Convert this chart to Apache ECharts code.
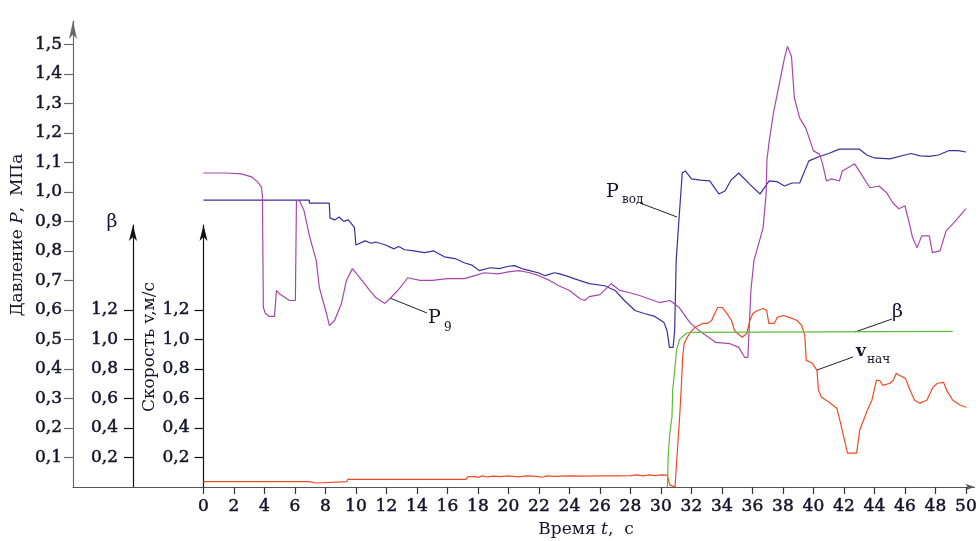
<!DOCTYPE html>
<html><head><meta charset="utf-8">
<script src="https://cdn.jsdelivr.net/npm/echarts@6/dist/echarts.min.js"></script>
<style>html,body{margin:0;padding:0;background:#fff}#c{width:980px;height:541px}</style>
</head><body><div id="c"></div>
<script>
// ---- tick labels ----
const timeTicks = [0,2,4,6,8,10,12,14,16,18,20,22,24,26,28,30,32,34,36,38,40,42,44,46,48,50];
const pressureTicks = [0.1,0.2,0.3,0.4,0.5,0.6,0.7,0.8,0.9,1.0,1.1,1.2,1.3,1.4,1.5];
const betaTicks = [0.2,0.4,0.6,0.8,1.0,1.2];
const speedTicks = [0.2,0.4,0.6,0.8,1.0,1.2];

// ---- series: [time s, value] ----
const pVod = [[0,0.972],[6.95,0.972],[6.95,0.962],[8.25,0.962],[8.3,0.912],[8.6,0.905],[8.9,0.915],[9.2,0.9],[9.5,0.905],[9.9,0.88],[10.0,0.82],[10.6,0.834],[11.0,0.826],[11.3,0.83],[11.9,0.821],[12.5,0.807],[12.8,0.815],[13.2,0.804],[13.8,0.8],[14.5,0.794],[15.1,0.8],[15.8,0.78],[16.5,0.774],[17.1,0.76],[17.6,0.752],[18.1,0.733],[18.8,0.743],[19.4,0.74],[20.0,0.748],[20.4,0.75],[21.0,0.738],[21.4,0.733],[22.0,0.725],[22.4,0.716],[23.0,0.726],[23.3,0.723],[24.0,0.712],[24.3,0.706],[25.3,0.689],[26.3,0.682],[27.0,0.666],[27.6,0.632],[28.3,0.598],[28.9,0.588],[29.6,0.578],[30.2,0.557],[30.4,0.53],[30.56,0.473],[30.8,0.473],[30.9,0.53],[31.0,0.767],[31.2,0.919],[31.4,1.064],[31.6,1.071],[32.0,1.044],[32.6,1.04],[33.2,1.037],[33.8,0.993],[34.2,1.003],[34.6,1.04],[35.1,1.064],[35.8,1.027],[36.5,0.993],[37.1,1.037],[37.6,1.035],[38.1,1.02],[38.6,1.03],[39.1,1.03],[39.7,1.105],[40.4,1.12],[41.0,1.13],[41.7,1.145],[43.0,1.145],[43.5,1.125],[44.0,1.115],[45.0,1.112],[46.0,1.125],[46.4,1.13],[47.0,1.122],[47.6,1.12],[48.2,1.125],[48.9,1.14],[49.5,1.14],[50,1.135]];

const p9 = [[0,1.064],[1.4,1.064],[2.5,1.061],[3.15,1.051],[3.55,1.034],[3.8,1.017],[3.87,0.986],[3.93,0.608],[4.07,0.588],[4.33,0.578],[4.66,0.578],[4.79,0.666],[4.98,0.655],[5.64,0.632],[6.03,0.632],[6.1,0.97],[6.3,0.97],[6.6,0.936],[6.95,0.851],[7.4,0.767],[7.6,0.676],[8.07,0.588],[8.26,0.547],[8.6,0.564],[9.05,0.622],[9.38,0.7],[9.77,0.74],[10.4,0.7],[10.9,0.666],[11.3,0.642],[11.9,0.622],[12.3,0.642],[12.85,0.672],[13.4,0.709],[14.2,0.7],[15.0,0.7],[16.0,0.706],[17.1,0.706],[17.8,0.716],[18.4,0.726],[19.3,0.722],[20.1,0.73],[20.7,0.733],[21.4,0.726],[22.0,0.716],[22.7,0.7],[23.3,0.682],[24.0,0.666],[24.7,0.638],[25.0,0.632],[25.3,0.645],[26.0,0.652],[26.75,0.689],[27.3,0.666],[27.9,0.659],[28.6,0.649],[29.2,0.638],[29.9,0.625],[30.6,0.632],[31.2,0.608],[31.9,0.557],[32.5,0.53],[33.6,0.49],[34.5,0.486],[35.1,0.473],[35.5,0.439],[35.7,0.439],[35.8,0.55],[35.9,0.666],[36.1,0.767],[36.7,0.878],[36.9,0.995],[36.95,1.107],[37.1,1.172],[37.4,1.274],[37.8,1.375],[38.1,1.453],[38.3,1.493],[38.4,1.497],[38.56,1.459],[38.75,1.318],[39.1,1.25],[39.5,1.216],[40.0,1.139],[40.4,1.128],[40.6,1.095],[40.85,1.037],[41.2,1.044],[41.7,1.037],[41.9,1.071],[42.7,1.095],[43.0,1.071],[43.7,1.014],[44.3,1.02],[44.8,0.997],[45.2,0.963],[45.6,0.943],[46.0,0.953],[46.2,0.912],[46.5,0.845],[46.8,0.811],[47.1,0.851],[47.6,0.851],[47.8,0.794],[48.3,0.8],[48.7,0.868],[49.2,0.895],[49.6,0.919],[50,0.943]];

const vNach = [[0,0.036],[6.9,0.036],[6.95,0.027],[7.4,0.027],[7.45,0.036],[9.4,0.036],[9.45,0.052],[17.2,0.052],[17.3,0.068],[17.8,0.072],[18.0,0.065],[18.3,0.075],[18.6,0.068],[19.0,0.074],[19.5,0.07],[20.0,0.075],[20.6,0.068],[21.2,0.075],[21.8,0.072],[22.2,0.066],[22.5,0.075],[23.0,0.072],[24.0,0.075],[25.0,0.074],[26.0,0.075],[27.0,0.075],[28.0,0.077],[28.4,0.082],[28.8,0.076],[29.2,0.082],[29.6,0.077],[30.0,0.082],[30.4,0.08],[30.55,0.014],[30.9,0.0],[31.1,0.318],[31.2,0.473],[31.3,0.655],[31.4,0.878],[31.5,0.973],[31.7,1.014],[31.9,1.047],[32.2,1.081],[32.7,1.108],[33.0,1.108],[33.3,1.128],[33.5,1.176],[33.7,1.216],[34.0,1.216],[34.3,1.176],[34.6,1.128],[34.8,1.061],[35.0,1.04],[35.3,1.014],[35.6,1.04],[35.8,1.128],[36.0,1.176],[36.3,1.196],[36.7,1.209],[36.9,1.196],[37.05,1.108],[37.4,1.108],[37.6,1.149],[38.0,1.162],[38.4,1.149],[38.9,1.128],[39.2,1.095],[39.4,1.027],[39.5,0.858],[39.9,0.838],[40.2,0.79],[40.3,0.655],[40.5,0.608],[41.0,0.574],[41.5,0.534],[41.7,0.453],[41.9,0.365],[42.2,0.23],[42.8,0.23],[43.0,0.385],[43.5,0.52],[43.8,0.588],[44.1,0.723],[44.3,0.723],[44.5,0.689],[45.0,0.703],[45.2,0.723],[45.4,0.77],[45.6,0.757],[46.0,0.736],[46.3,0.655],[46.6,0.588],[46.95,0.568],[47.4,0.588],[47.8,0.676],[48.1,0.703],[48.5,0.709],[48.7,0.655],[49.1,0.588],[49.6,0.554],[50.0,0.54]];

const beta = [[30.4,0],[30.45,0.204],[30.56,0.367],[30.7,0.476],[30.75,0.66],[30.9,0.816],[31.0,0.93],[31.2,1.0],[31.4,1.02],[31.7,1.045],[32.1,1.048],[49.1,1.054]];

const serif = 'DejaVu Serif';
const ink = '#14142a';
const fmt = v => Number(v).toFixed(1).replace('.', ',');
const heavy = {textBorderColor: ink, textBorderWidth: 0.5};

const chart = echarts.init(document.getElementById('c'), null, {renderer: 'canvas'});

const xCommon = {type: 'value', min: -8.552, max: 50.557};
function yAx(grid, offset, max, ticks, lineColor, margin, arrowLen) {
  return {
    type: 'value', gridIndex: grid, position: 'left', offset: offset, min: 0, max: max,
    splitLine: {show: false},
    axisLine: {show: true, onZero: false, symbol: ['none', 'arrow'], symbolSize: [6, arrowLen], lineStyle: {color: lineColor, width: 1.2}},
    axisTick: {show: true, length: 9, customValues: ticks, lineStyle: {color: lineColor, width: 1.2}},
    axisLabel: Object.assign({show: true, customValues: ticks, formatter: fmt, margin: margin, color: ink, fontFamily: serif, fontSize: 17}, heavy)
  };
}

const option = {
  animation: false,
  backgroundColor: '#fff',
  grid: [
    {left: 73, right: 5, top: 21, bottom: 54},
    {left: 73, right: 5, top: 225, bottom: 54}
  ],
  xAxis: [
    Object.assign({}, xCommon, {
      gridIndex: 0, position: 'bottom',
      splitLine: {show: false},
      axisLine: {show: true, onZero: false, symbol: ['none', 'arrow'], symbolSize: [5, 9], lineStyle: {color: '#555', width: 1.2}},
      axisTick: {show: true, length: 7, customValues: timeTicks, lineStyle: {color: '#333', width: 1.2}},
      axisLabel: Object.assign({show: true, customValues: timeTicks, margin: 11, color: ink, fontFamily: serif, fontSize: 17}, heavy)
    }),
    Object.assign({}, xCommon, {gridIndex: 1, show: false})
  ],
  yAxis: [
    yAx(0, 0, 1.579, pressureTicks, '#6a6a6a', 11, 18),
    yAx(1, -60, 1.775, betaTicks, '#111', 15, 16),
    yAx(1, -130.5, 1.775, speedTicks, '#111', 14, 16)
  ],
  series: [
    {name: 'Pвод', type: 'line', xAxisIndex: 0, yAxisIndex: 0, data: pVod, showSymbol: false, clip: false, lineStyle: {color: '#3b2f9c', width: 1.2}},
    {name: 'P9', type: 'line', xAxisIndex: 0, yAxisIndex: 0, data: p9, showSymbol: false, clip: false, lineStyle: {color: '#a846ab', width: 1.2}},
    {name: 'vнач', type: 'line', xAxisIndex: 1, yAxisIndex: 2, data: vNach, showSymbol: false, clip: false, lineStyle: {color: '#f04a25', width: 1.2}},
    {name: 'β', type: 'line', xAxisIndex: 1, yAxisIndex: 1, data: beta, showSymbol: false, clip: false, lineStyle: {color: '#5cbd3c', width: 1.2}}
  ],
  graphic: [
    {type: 'text', x: 18, y: 235, rotation: Math.PI / 2, style: {text: 'Давление {i|P},  МПа', align: 'center', verticalAlign: 'middle', fill: ink, font: '17px "DejaVu Serif"', textStroke: ink, rich: {i: {fontStyle: 'italic', fontFamily: serif, fontSize: 17, fill: ink}}}},
    {type: 'text', x: 150, y: 347, rotation: Math.PI / 2, style: {text: 'Скорость v,м/с', align: 'center', verticalAlign: 'middle', fill: ink, font: '17px "DejaVu Serif"'}},
    {type: 'text', x: 586, y: 530, style: {text: 'Время {i|t},  с', align: 'center', verticalAlign: 'middle', fill: ink, font: '17px "DejaVu Serif"', rich: {i: {fontStyle: 'italic', fontFamily: serif, fontSize: 17, fill: ink}}}},
    {type: 'text', x: 112, y: 222, style: {text: 'β', align: 'center', verticalAlign: 'middle', fill: ink, font: '19px "DejaVu Serif"'}},
    // annotations
    {type: 'line', shape: {x1: 640, y1: 203, x2: 677, y2: 217}, style: {stroke: '#222', lineWidth: 1}},
    {type: 'text', x: 606, y: 192, style: {text: 'P', align: 'left', verticalAlign: 'middle', fill: ink, font: '19px "DejaVu Serif"'}},
    {type: 'text', x: 622, y: 200, style: {text: 'вод', align: 'left', verticalAlign: 'middle', fill: ink, font: '12px "DejaVu Serif"'}},
    {type: 'line', shape: {x1: 390, y1: 298, x2: 427, y2: 313}, style: {stroke: '#222', lineWidth: 1}},
    {type: 'text', x: 428, y: 318, style: {text: 'P', align: 'left', verticalAlign: 'middle', fill: ink, font: '19px "DejaVu Serif"'}},
    {type: 'text', x: 444, y: 328, style: {text: '9', align: 'left', verticalAlign: 'middle', fill: ink, font: '12px "DejaVu Serif"'}},
    {type: 'line', shape: {x1: 855, y1: 332, x2: 892, y2: 319}, style: {stroke: '#222', lineWidth: 1}},
    {type: 'text', x: 892, y: 312, style: {text: 'β', align: 'left', verticalAlign: 'middle', fill: ink, font: '19px "DejaVu Serif"'}},
    {type: 'line', shape: {x1: 817, y1: 370, x2: 853, y2: 357}, style: {stroke: '#222', lineWidth: 1}},
    {type: 'text', x: 856, y: 352, style: {text: 'v', align: 'left', verticalAlign: 'middle', fill: ink, font: 'bold 17px "DejaVu Serif"'}},
    {type: 'text', x: 867, y: 360, style: {text: 'нач', align: 'left', verticalAlign: 'middle', fill: ink, font: '12px "DejaVu Serif"'}}
  ]
};
chart.setOption(option);
</script></body></html>
